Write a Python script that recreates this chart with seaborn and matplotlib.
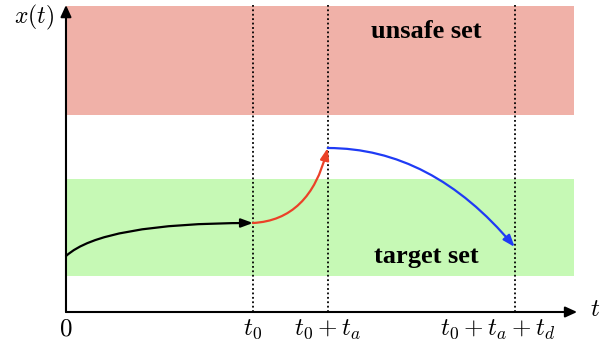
import matplotlib
matplotlib.use("Agg")
import matplotlib.pyplot as plt
import seaborn as sns
import pandas as pd
from matplotlib.patches import FancyArrowPatch, Rectangle

# ---- data (schematic units) ----
t_marks = [0.0, 5.0, 7.0, 12.0]                     # 0, t0, t0+ta, t0+ta+td
t_labels = [r"$0$", r"$t_0$", r"$t_0+t_a$", r"$t_0+t_a+t_d$"]
t_end = 13.6
x_top = 30.7
unsafe_band = [19.7, 30.6]
target_band = [3.6, 13.3]
# trajectory segments: (start t, start x, end t, end x)
seg_black = [0.0, 5.6, 5.0, 8.9]
seg_red = [5.0, 8.9, 7.0, 16.4]
seg_blue = [7.0, 16.4, 12.0, 6.5]

sns.set_theme(style="white")
plt.rcParams["mathtext.fontset"] = "cm"
plt.rcParams["font.family"] = ["Liberation Serif", "DejaVu Serif"]
plt.rcParams["text.color"] = "black"

fig = plt.figure(figsize=(6.13, 3.43), dpi=100)
ax = fig.add_axes([0, 0, 1, 1])
ax.set_xlim(-1.765, 14.63)
ax.set_ylim(-3.1, 31.2)
ax.axis("off")

# bands
ax.add_patch(Rectangle((0, unsafe_band[0]), t_end, unsafe_band[1] - unsafe_band[0],
                       facecolor="#F0B1A8", edgecolor="none", zorder=0))
ax.add_patch(Rectangle((0, target_band[0]), t_end, target_band[1] - target_band[0],
                       facecolor="#C6F9B5", edgecolor="none", zorder=0))

# dotted vertical guides via seaborn
rows = []
for i, tm in enumerate(t_marks[1:]):
    rows.append({"t": tm, "x": 0.0, "g": i})
    rows.append({"t": tm, "x": unsafe_band[1] + 0.1, "g": i})
df = pd.DataFrame(rows)
sns.lineplot(data=df, x="t", y="x", units="g", estimator=None, color="black",
             lw=1.3, dashes=False, ax=ax, zorder=2, legend=False,
             linestyle=(0, (1, 1.45)))

# axes arrows
def axis_arrow(p0, p1):
    a = FancyArrowPatch(p0, p1, arrowstyle="-|>,head_length=7,head_width=3.2",
                        mutation_scale=1, lw=1.5, color="black",
                        shrinkA=0, shrinkB=0, zorder=4)
    ax.add_patch(a)

axis_arrow((0, 0), (t_end + 0.07, 0))
axis_arrow((0, 0), (0, x_top))

# trajectories
def traj(seg, color, cs):
    a = FancyArrowPatch((seg[0], seg[1]), (seg[2], seg[3]),
                        connectionstyle=cs,
                        arrowstyle="-|>,head_length=7,head_width=2.6",
                        mutation_scale=1, lw=1.6, color=color,
                        shrinkA=0, shrinkB=0, zorder=5)
    ax.add_patch(a)

traj(seg_black, "black", "angle3,angleA=42,angleB=0")
traj(seg_red, "#EB4128", "angle3,angleA=3,angleB=76")
traj(seg_blue, "#1F3BF5", "angle3,angleA=0,angleB=130")

# labels
for tm, lab in zip(t_marks, t_labels):
    dx = -0.45 if tm == t_marks[-1] else 0.0
    ax.text(tm + dx, -1.75, lab, ha="center", va="center", fontsize=18)
ax.text(14.15, 0.15, r"$t$", ha="center", va="center", fontsize=18)
ax.text(-0.85, 29.5, r"$x(t)$", ha="center", va="center", fontsize=17)

ax.text(9.625, 28.1, "unsafe set", ha="center", va="center", fontsize=19,
        fontweight="bold")
ax.text(9.625, 5.6, "target set", ha="center", va="center", fontsize=19,
        fontweight="bold")

fig.savefig("out.png", dpi=100)
